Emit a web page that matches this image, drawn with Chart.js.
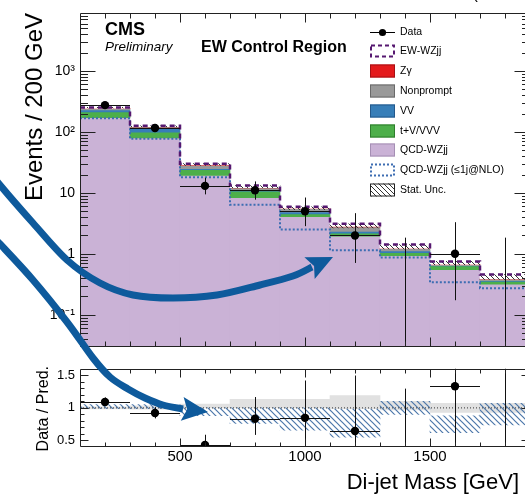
<!DOCTYPE html>
<html>
<head>
<meta charset="utf-8">
<script src="https://cdn.jsdelivr.net/npm/chart.js@4.4.1/dist/chart.umd.min.js"></script>
<style>
  html, body { margin: 0; padding: 0; background: #fff; overflow: hidden; }
  #wrap { position: relative; width: 525px; height: 495px; overflow: hidden; background: #fff; }
  #main { position: absolute; left: 0; top: 0; }
  #ratio { position: absolute; left: 0; top: 356px; }
  #arrows { position: absolute; left: 0; top: 0; pointer-events: none; }
</style>
</head>
<body>
<div id="wrap">
  <canvas id="main" width="545" height="360"></canvas>
  <canvas id="ratio" width="545" height="139"></canvas>
  <canvas id="arrows" width="525" height="495"></canvas>
</div>
<script>
// ---- Di-jet mass binning [GeV] ----
const binEdges   = [100, 300, 500, 700, 900, 1100, 1300, 1500, 1700, 1900];
const binCenters = [200, 400, 600, 800, 1000, 1200, 1400, 1600, 1800];

// ---- Stacked predictions, events per bin (bottom to top) ----
const qcdWZjj   = [172, 80, 19.3, 8.3, 4.07, 1.95, 0.93, 0.55, 0.316];
const tVVVV     = [40, 19, 4.6, 2.4, 0.42, 0.22, 0.11, 0.08, 0.036];
const vvBkg     = [17, 15, 1.1, 0.4, 0.39, 0.16, 0.07, 0.01, 0.011];
const nonprompt = [12, 7, 3.3, 1.0, 0.64, 0.44, 0.10, 0.02, 0.02];
const zGamma    = [2, 1, 0.3, 0.1, 0.05, 0.03, 0.02, 0.01, 0.005];
const ewWZjj    = [9, 4, 1.5, 1.0, 0.33, 0.30, 0.19, 0.08, 0.07];
// Alternative QCD-WZjj (<=1j @ NLO) outline
const qcdNLO    = [168, 77, 18.1, 6.4, 2.51, 1.14, 0.87, 0.34, 0.273];
// Relative statistical uncertainty of the total prediction
const statUncRel = [0.02, 0.03, 0.06, 0.08, 0.10, 0.14, 0.15, 0.12, 0.17];

// ---- Observed data with 68% Poisson intervals ----
const dataCounts = [275, 116, 13, 11, 5, 2, 0, 1, 0];
const dataLow    = [258.7, 105.7, 9.44, 7.73, 2.84, 0.708, 0, 0.173, 0];
const dataHigh   = [292.6, 127.3, 17.7, 15.4, 8.38, 4.64, 1.84, 3.30, 1.84];

// ---- Ratio panel bands ----
const ratioStatLo = [0.985, 0.98, 1.00, 1.00, 1.00, 0.99, 0.97, 0.93, 0.93];
const ratioStatHi = [1.015, 1.03, 1.06, 1.13, 1.13, 1.19, 1.10, 1.07, 1.07];
const ratioAltLo  = [0.99, 0.99, 0.88, 0.76, 0.66, 0.55, 0.90, 0.62, 0.74];
const ratioAltHi  = [1.05, 1.05, 1.00, 1.00, 1.00, 0.98, 1.10, 0.88, 1.07];

// ---- Tick labels ----
const yMajorTicks  = [0.1, 1, 10, 100, 1000];
const yMajorLabels = ['10\u207B\u00B9', '1', '10', '10\u00B2', '10\u00B3'];
const xLabelTicks  = [500, 1000, 1500];
const ratioTicks   = [0.5, 1, 1.5];
const ratioLabels  = ['0.5', '1', '1.5'];

const legendLabels = ['Data', 'EW-WZjj', 'Z\u03B3', 'Nonprompt', 'VV', 't+V/VVV',
                      'QCD-WZjj', 'QCD-WZjj (\u22641j@NLO)', 'Stat. Unc.'];

const FONT = '"Liberation Sans", Arial, Helvetica, sans-serif';
Chart.defaults.font.family = FONT;
Chart.defaults.color = '#000';

const Y_MIN = 0.03, Y_MAX = 8800;
const COL = {
  qcd: '#cab2d6', tv: '#4daf4a', vv: '#377eb8', np: '#999999', zg: '#e41a1c',
  ew: '#561870', nlo: '#3d6db2'
};

function hatchPattern(color, s, w) {
  const c = document.createElement('canvas');
  c.width = s; c.height = s;
  const g = c.getContext('2d');
  g.strokeStyle = color; g.lineWidth = w;
  g.beginPath();
  g.moveTo(0, 0); g.lineTo(s, s);
  g.moveTo(-1, s - 1); g.lineTo(1, s + 1);
  g.moveTo(s - 1, -1); g.lineTo(s + 1, 1);
  g.stroke();
  return document.createElement('canvas').getContext('2d').createPattern(c, 'repeat');
}
const hatchBlack = hatchPattern('#333', 5, 1);
const hatchBlue  = hatchPattern('#4c77aa', 6, 1.2);

// ---- stacked totals ----
const stackDefs = [
  { label: 'QCD-WZjj',  vals: qcdWZjj,   color: COL.qcd },
  { label: 't+V/VVV',   vals: tVVVV,     color: COL.tv },
  { label: 'VV',        vals: vvBkg,     color: COL.vv },
  { label: 'Nonprompt', vals: nonprompt, color: COL.np },
  { label: 'Z\u03B3',   vals: zGamma,    color: COL.zg },
  { label: 'EW-WZjj',   vals: ewWZjj,    color: '#ffffff' }
];
const cum = binCenters.map(() => 0);
const mainDatasets = [];
stackDefs.forEach((d, k) => {
  const data = binCenters.map((xc, i) => {
    const lo = k === 0 ? Y_MIN : cum[i];
    cum[i] += d.vals[i];
    return { x: xc, y: [lo, cum[i]] };
  });
  mainDatasets.push({
    type: 'bar', label: d.label, data, backgroundColor: d.color, borderWidth: 0,
    grouped: false, barPercentage: 1, categoryPercentage: 1, order: 20 - k
  });
});
const totals = cum.slice();

function histPoints(vals) {
  const pts = [];
  vals.forEach((v, i) => { pts.push({ x: binEdges[i], y: v }); pts.push({ x: binEdges[i + 1], y: v }); });
  return pts;
}

mainDatasets.push({
  type: 'bar', label: 'Stat. Unc.',
  data: binCenters.map((xc, i) => ({ x: xc, y: [totals[i] * (1 - statUncRel[i]), totals[i]] })),
  backgroundColor: hatchBlack, borderWidth: 0, grouped: false,
  barPercentage: 1, categoryPercentage: 1, order: 5
});
mainDatasets.push({
  type: 'line', label: 'QCD-WZjj (\u22641j@NLO)', data: histPoints(qcdNLO),
  borderColor: COL.nlo, borderWidth: 2, borderDash: [2, 2], pointRadius: 0, fill: false, order: 3
});
mainDatasets.push({
  type: 'line', label: 'EW-WZjj outline', data: histPoints(totals),
  borderColor: COL.ew, borderWidth: 2.5, borderDash: [5, 4], pointRadius: 0, fill: false, order: 2
});
mainDatasets.push({
  type: 'line', label: 'Data', showLine: false,
  data: binCenters.map((xc, i) => ({ x: xc, y: dataCounts[i] > 0 ? dataCounts[i] : null })),
  errLow: dataLow, errHigh: dataHigh,
  pointRadius: 4.2, pointBackgroundColor: '#000', pointBorderWidth: 0, order: 0
});

// ---- tick marks ----
const xMarks = [];
for (let v = 200; v < 1900; v += 100) xMarks.push({ v, major: v % 500 === 0 });
const yLogMarks = [];
for (let n = -2; n <= 3; n++) for (let k = 1; k <= 9; k++) {
  const v = k * Math.pow(10, n);
  if (v > Y_MIN && v < Y_MAX) yLogMarks.push({ v, major: k === 1 });
}
const yRatioMarks = [];
for (let i = 5; i <= 15; i++) yRatioMarks.push({ v: i / 10, major: i % 5 === 0 });

const frameTicks = {
  id: 'frameTicks',
  afterDatasetsDraw(chart, args, o) {
    const { ctx, chartArea: a, scales: { x, y } } = chart;
    ctx.save();
    ctx.strokeStyle = '#222'; ctx.lineWidth = 1;
    const L = Math.round(a.left) + 0.5, R = Math.round(a.right) - 0.5;
    const T = Math.round(a.top) + 0.5, B = Math.round(a.bottom) - 0.5;
    ctx.beginPath();
    ctx.rect(L, T, R - L, B - T);
    o.xMarks.forEach(m => {
      const px = Math.round(x.getPixelForValue(m.v)) + 0.5;
      const len = m.major ? o.xLen[1] : o.xLen[0];
      ctx.moveTo(px, B); ctx.lineTo(px, B - len);
      ctx.moveTo(px, T); ctx.lineTo(px, T + len);
    });
    o.yMarks.forEach(m => {
      const py = Math.round(y.getPixelForValue(m.v)) + 0.5;
      const len = m.major ? o.yLen[1] : o.yLen[0];
      ctx.moveTo(L, py); ctx.lineTo(L + len, py);
      ctx.moveTo(R, py); ctx.lineTo(R - len, py);
    });
    ctx.stroke();
    ctx.restore();
  }
};

const errorBars = {
  id: 'errorBars',
  beforeDatasetDraw(chart, args) {
    const ds = chart.data.datasets[args.index];
    if (!ds.errLow) return;
    const { ctx, chartArea: a, scales: { x, y } } = chart;
    ctx.save();
    ctx.beginPath(); ctx.rect(a.left, a.top, a.right - a.left, a.bottom - a.top); ctx.clip();
    ctx.strokeStyle = '#111'; ctx.lineWidth = 1;
    ctx.beginPath();
    ds.data.forEach((p, i) => {
      const cx = Math.round(x.getPixelForValue(p.x)) + 0.5;
      const lo = ds.errLow[i], hi = ds.errHigh[i];
      const yl = lo > 0 ? y.getPixelForValue(lo) : (y.type === 'logarithmic' ? a.bottom : y.getPixelForValue(0));
      const yh = y.getPixelForValue(hi);
      ctx.moveTo(cx, yl); ctx.lineTo(cx, yh);
      if (p.y !== null) {
        const py = Math.round(y.getPixelForValue(p.y)) + 0.5;
        ctx.moveTo(x.getPixelForValue(binEdges[i]), py);
        ctx.lineTo(x.getPixelForValue(binEdges[i + 1]), py);
      }
    });
    ctx.stroke();
    ctx.restore();
  }
};

const mainDecor = {
  id: 'mainDecor',
  afterDraw(chart) {
    const ctx = chart.ctx;
    ctx.save();
    ctx.fillStyle = '#000';
    ctx.textBaseline = 'alphabetic';
    ctx.textAlign = 'left';
    ctx.font = 'bold 18px ' + FONT; ctx.fillText('CMS', 105, 35);
    ctx.font = 'italic 13.5px ' + FONT; ctx.fillText('Preliminary', 105, 51);
    ctx.font = 'bold 16px ' + FONT; ctx.fillText('EW Control Region', 201, 52);
    ctx.font = '16px ' + FONT; ctx.textAlign = 'right';
    ctx.fillText('35.9 fb\u207B\u00B9 (13 TeV)', 533, -1);

    // y-axis title
    ctx.save();
    ctx.translate(42, 13); ctx.rotate(-Math.PI / 2);
    ctx.textAlign = 'right'; ctx.font = '24px ' + FONT;
    ctx.fillText('Events / 200 GeV', 0, 0);
    ctx.restore();

    // legend
    const bx = 370, bw = 25, bh = 13, tx = 400;
    ctx.font = '10.5px ' + FONT; ctx.textAlign = 'left'; ctx.textBaseline = 'middle';
    legendLabels.forEach((lab, i) => {
      const yc = Math.round(31.5 + i * 19.8);
      const top = yc - bh / 2;
      ctx.save();
      ctx.lineWidth = 1;
      switch (i) {
        case 0:
          ctx.strokeStyle = '#000';
          ctx.beginPath(); ctx.moveTo(bx, yc + 0.5); ctx.lineTo(bx + bw, yc + 0.5); ctx.stroke();
          ctx.beginPath(); ctx.arc(bx + bw / 2, yc + 0.5, 3.6, 0, Math.PI * 2); ctx.fillStyle = '#000'; ctx.fill();
          break;
        case 1:
          ctx.fillStyle = '#fff'; ctx.fillRect(bx, top, bw, bh);
          ctx.strokeStyle = COL.ew; ctx.lineWidth = 2; ctx.setLineDash([4, 3]);
          ctx.strokeRect(bx + 1, top + 1, bw - 2, bh - 2);
          break;
        case 2: case 3: case 4: case 5: case 6: {
          const fills = [null, null, COL.zg, COL.np, COL.vv, COL.tv, COL.qcd];
          const edges = [null, null, '#a51014', '#6a6a6a', '#24588a', '#2f7d2d', '#a58fb4'];
          ctx.fillStyle = fills[i]; ctx.fillRect(bx, top, bw, bh);
          ctx.strokeStyle = edges[i]; ctx.strokeRect(bx + 0.5, top + 0.5, bw - 1, bh - 1);
          break;
        }
        case 7:
          ctx.fillStyle = '#fff'; ctx.fillRect(bx, top, bw, bh);
          ctx.strokeStyle = COL.nlo; ctx.lineWidth = 2; ctx.setLineDash([2, 2]);
          ctx.strokeRect(bx + 1, top + 1, bw - 2, bh - 2);
          break;
        case 8:
          ctx.fillStyle = hatchBlack; ctx.fillRect(bx, top, bw, bh);
          ctx.strokeStyle = '#222'; ctx.strokeRect(bx + 0.5, top + 0.5, bw - 1, bh - 1);
          break;
      }
      ctx.restore();
      ctx.fillStyle = '#000';
      ctx.fillText(lab, tx, yc + 0.5);
    });
    ctx.restore();
  }
};

new Chart(document.getElementById('main'), {
  type: 'bar',
  data: { datasets: mainDatasets },
  options: {
    responsive: false, animation: false, devicePixelRatio: 1, events: [],
    layout: { padding: { top: 10, right: 15, left: 0, bottom: 0 } },
    plugins: {
      legend: { display: false }, tooltip: { enabled: false },
      frameTicks: { xMarks, yMarks: yLogMarks, xLen: [5, 9], yLen: [7.5, 15] }
    },
    scales: {
      x: {
        type: 'linear', min: binEdges[0], max: binEdges[binEdges.length - 1], offset: false,
        grid: { display: false, drawTicks: false }, border: { display: false },
        ticks: { display: false },
        afterBuildTicks: s => { s.ticks = xLabelTicks.map(v => ({ value: v })); },
        afterFit: s => { s.height = 4; }
      },
      y: {
        type: 'logarithmic', min: Y_MIN, max: Y_MAX,
        grid: { display: false, drawTicks: false }, border: { display: false },
        afterBuildTicks: s => { s.ticks = yMajorTicks.map(v => ({ value: v })); },
        afterFit: s => { s.width = 80; },
        ticks: { font: { size: 14 }, padding: 5, autoSkip: false,
                 callback: (v, i) => yMajorLabels[i] }
      }
    }
  },
  plugins: [frameTicks, errorBars, mainDecor]
});

// ---- ratio panel ----
const ratioVals = dataCounts.map((n, i) => n / totals[i]);
const ratioDatasets = [
  { type: 'bar', label: 'Stat. band',
    data: binCenters.map((xc, i) => ({ x: xc, y: [ratioStatLo[i], ratioStatHi[i]] })),
    backgroundColor: '#e1e1e1', borderWidth: 0, grouped: false,
    barPercentage: 1, categoryPercentage: 1, order: 6 },
  { type: 'bar', label: 'QCD-WZjj (\u22641j@NLO) / Pred.',
    data: binCenters.map((xc, i) => ({ x: xc, y: [ratioAltLo[i], ratioAltHi[i]] })),
    backgroundColor: hatchBlue, borderWidth: 0, grouped: false,
    barPercentage: 1, categoryPercentage: 1, order: 5 },
  { type: 'line', label: 'Unity',
    data: [{ x: binEdges[0], y: 1 }, { x: binEdges[binEdges.length - 1], y: 1 }],
    borderColor: '#333', borderWidth: 1, borderDash: [1, 2], pointRadius: 0, order: 4 },
  { type: 'line', label: 'Data / Pred.', showLine: false,
    data: binCenters.map((xc, i) => ({ x: xc, y: dataCounts[i] > 0 ? ratioVals[i] : null })),
    errLow: dataLow.map((v, i) => v / totals[i]), errHigh: dataHigh.map((v, i) => v / totals[i]),
    pointRadius: 4.2, pointBackgroundColor: '#000', pointBorderWidth: 0, order: 0 }
];

const ratioDecor = {
  id: 'ratioDecor',
  afterDraw(chart) {
    const ctx = chart.ctx;
    ctx.save();
    ctx.fillStyle = '#000'; ctx.textBaseline = 'alphabetic';
    ctx.save();
    ctx.translate(48, 10); ctx.rotate(-Math.PI / 2);
    ctx.textAlign = 'right'; ctx.font = '16px ' + FONT;
    ctx.fillText('Data / Pred.', 0, 0);
    ctx.restore();
    ctx.textAlign = 'right'; ctx.font = '22px ' + FONT;
    ctx.fillText('Di-jet Mass [GeV]', 519, 133);
    ctx.restore();
  }
};

new Chart(document.getElementById('ratio'), {
  type: 'bar',
  data: { datasets: ratioDatasets },
  options: {
    responsive: false, animation: false, devicePixelRatio: 1, events: [],
    layout: { padding: { top: 7, right: 15, left: 0, bottom: 0 } },
    plugins: {
      legend: { display: false }, tooltip: { enabled: false },
      frameTicks: { xMarks, yMarks: yRatioMarks, xLen: [4, 8], yLen: [4, 8] }
    },
    scales: {
      x: {
        type: 'linear', min: binEdges[0], max: binEdges[binEdges.length - 1], offset: false,
        grid: { display: false, drawTicks: false }, border: { display: false },
        afterBuildTicks: s => { s.ticks = xLabelTicks.map(v => ({ value: v })); },
        afterFit: s => { s.height = 48; },
        ticks: { font: { size: 15 }, padding: 1, maxRotation: 0, autoSkip: false,
                 callback: v => String(v) }
      },
      y: {
        type: 'linear', min: 0.4, max: 1.6,
        grid: { display: false, drawTicks: false }, border: { display: false },
        afterBuildTicks: s => { s.ticks = ratioTicks.map(v => ({ value: v })); },
        afterFit: s => { s.width = 80; },
        ticks: { font: { size: 13 }, padding: 5, autoSkip: false,
                 callback: (v, i) => ratioLabels[i] }
      }
    }
  },
  plugins: [frameTicks, errorBars, ratioDecor]
});

// ---- overlaid curved arrows ----
(function () {
  const ctx = document.getElementById('arrows').getContext('2d');
  const blue = '#0e5a9c';
  function arrow(pts, tip, L, W) {
    ctx.save();
    ctx.strokeStyle = blue; ctx.fillStyle = blue; ctx.lineWidth = 7; ctx.lineCap = 'butt'; ctx.lineJoin = 'round';
    ctx.beginPath();
    ctx.moveTo(pts[0][0], pts[0][1]);
    for (let i = 0; i < pts.length - 1; i++) {
      const p0 = pts[Math.max(i - 1, 0)], p1 = pts[i], p2 = pts[i + 1], p3 = pts[Math.min(i + 2, pts.length - 1)];
      ctx.bezierCurveTo(p1[0] + (p2[0] - p0[0]) / 6, p1[1] + (p2[1] - p0[1]) / 6,
                        p2[0] - (p3[0] - p1[0]) / 6, p2[1] - (p3[1] - p1[1]) / 6,
                        p2[0], p2[1]);
    }
    ctx.stroke();
    const last = pts[pts.length - 1];
    let dx = tip[0] - last[0], dy = tip[1] - last[1];
    const len = Math.hypot(dx, dy); dx /= len; dy /= len;
    const nx = -dy, ny = dx;
    const bx = tip[0] - L * dx, by = tip[1] - L * dy;
    ctx.beginPath();
    ctx.moveTo(tip[0], tip[1]);
    ctx.lineTo(bx + W * nx, by + W * ny);
    ctx.lineTo(tip[0] - (L - 5) * dx, tip[1] - (L - 5) * dy);
    ctx.lineTo(bx - W * nx, by - W * ny);
    ctx.closePath();
    ctx.fill();
    ctx.restore();
  }
  arrow([[-6, 176], [0, 185], [33, 223], [67, 260], [100, 283], [133, 295], [173, 298],
         [217, 295], [260, 285], [293, 276], [312, 267]], [333, 257], 26, 12);
  arrow([[-8, 236], [0, 244], [33, 280], [67, 322], [93, 358], [110, 377], [128, 389],
         [145, 398], [163, 405], [183, 409]], [208, 412], 26, 12);
})();
</script>
</body>
</html>
